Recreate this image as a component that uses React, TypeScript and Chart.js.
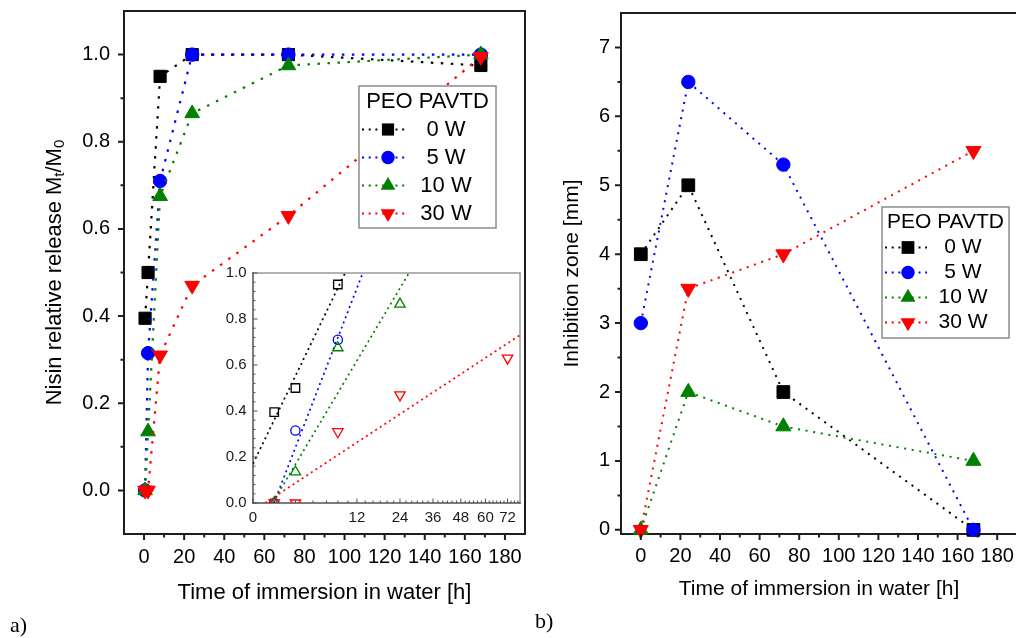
import React, { useEffect, useRef } from 'react';
import { Chart, registerables } from 'chart.js';

Chart.register(...registerables);

const FONT = '"Liberation Sans", Arial, Helvetica, sans-serif';
const SERIF = '"Liberation Serif", "Times New Roman", serif';
const AXIS = '#1e1e1e';

// ---------- shared series description ----------
const seriesLabels = ['0 W', '5 W', '10 W', '30 W'];
const seriesColors = ['#000000', '#0000ff', '#008000', '#ff0000'];
const seriesStyles = ['rect', 'circle', 'triangle', 'triangle'];
const seriesRotations = [0, 0, 0, 180];
const legendTitle = 'PEO PAVTD';

// ---------- a) nisin release ----------
const releaseHours = [0.5, 2, 8, 24, 72, 168];
const release0W = [0.395, 0.5, 0.95, 1.0, 1.0, 0.975];
const release5W = [0.0, 0.315, 0.71, 1.0, 1.0, 1.0];
const release10W = [0.0, 0.135, 0.675, 0.865, 0.975, 1.0];
const release30W = [0.0, 0.0, 0.31, 0.47, 0.63, 0.995];
const releaseXTicks = [0, 20, 40, 60, 80, 100, 120, 140, 160, 180];
const releaseXMinor = [10, 30, 50, 70, 90, 110, 130, 150, 170];
const releaseYTicks = [0, 0.2, 0.4, 0.6, 0.8, 1.0];
const releaseYMinor = [0.1, 0.3, 0.5, 0.7, 0.9];

// ---------- a) inset: release vs sqrt(time) ----------
const insetPointCounts = [3, 3, 4, 5];
const insetFit0W = [[0, 0.17], [3.07, 1.0]]; // [sqrt(h), Mt/M0]
const insetFit5W = [[0.7, 0], [3.66, 1.0]];
const insetFit10W = [[0.65, 0], [5.2, 1.0]];
const insetFit30W = [[0.4, 0], [8.9, 0.73]];
const insetXTickHours = [0, 12, 24, 36, 48, 60, 72];
const insetXMinorHours = [2, 4, 6, 8, 10, 14, 16, 18, 20, 22, 26, 28, 30, 32, 34, 38, 40, 42, 44, 46, 50, 52, 54, 56, 58, 62, 64, 66, 68, 70, 74, 76, 78];
const insetYTicks = [0, 0.2, 0.4, 0.6, 0.8, 1.0];
const insetYMinor = [0.04, 0.08, 0.12, 0.16, 0.24, 0.28, 0.32, 0.36, 0.44, 0.48, 0.52, 0.56, 0.64, 0.68, 0.72, 0.76, 0.84, 0.88, 0.92, 0.96];

// ---------- b) inhibition zone ----------
const zoneHours = [0, 24, 72, 168];
const zone0W = [4, 5, 2, 0];
const zone5W = [3, 6.5, 5.3, 0];
const zone10W = [0, 2, 1.5, 1];
const zone30W = [0, 3.5, 4, 5.5];
const zoneXTicks = [0, 20, 40, 60, 80, 100, 120, 140, 160, 180];
const zoneXMinor = [10, 30, 50, 70, 90, 110, 130, 150, 170];
const zoneYTicks = [0, 1, 2, 3, 4, 5, 6, 7];
const zoneYMinor = [0.5, 1.5, 2.5, 3.5, 4.5, 5.5, 6.5];

// ---------- helpers ----------
function drawMarker(ctx: any, style: string, rotation: number, x: number, y: number, r: number, color: string) {
  ctx.save();
  ctx.fillStyle = color;
  ctx.beginPath();
  if (style === 'rect') {
    const h = r * Math.SQRT1_2;
    ctx.rect(x - h, y - h, 2 * h, 2 * h);
  } else if (style === 'circle') {
    ctx.arc(x, y, r, 0, Math.PI * 2);
  } else {
    let rad = (rotation * Math.PI) / 180;
    ctx.moveTo(x + Math.sin(rad) * r, y - Math.cos(rad) * r);
    rad += (2 * Math.PI) / 3;
    ctx.lineTo(x + Math.sin(rad) * r, y - Math.cos(rad) * r);
    rad += (2 * Math.PI) / 3;
    ctx.lineTo(x + Math.sin(rad) * r, y - Math.cos(rad) * r);
    ctx.closePath();
  }
  ctx.fill();
  ctx.restore();
}

const framePlugin = {
  id: 'frame',
  beforeDatasetsDraw(chart: any, _a: any, o: any) {
    if (!o || !o.sides) return;
    const { left, right, top, bottom } = chart.chartArea;
    const ctx = chart.ctx;
    ctx.save();
    if (o.fill) {
      ctx.fillStyle = o.fill;
      ctx.fillRect(left, top, right - left, bottom - top);
    }
    const seg = (s: any, x0: number, y0: number, x1: number, y1: number) => {
      ctx.strokeStyle = s.color;
      ctx.lineWidth = s.width;
      ctx.beginPath();
      ctx.moveTo(x0, y0);
      ctx.lineTo(x1, y1);
      ctx.stroke();
    };
    const s = o.sides;
    ctx.lineCap = 'square';
    seg(s.top, left, top, right, top);
    seg(s.right, right, top, right, bottom);
    seg(s.left, left, top, left, bottom);
    seg(s.bottom, left, bottom, right, bottom);
    ctx.restore();
  },
};

const tickMarksPlugin = {
  id: 'tickMarks',
  afterDraw(chart: any, _a: any, o: any) {
    if (!o || !o.sets) return;
    const ctx = chart.ctx;
    const ca = chart.chartArea;
    ctx.save();
    ctx.strokeStyle = o.color;
    for (const s of o.sets) {
      const scale = chart.scales[s.axis];
      const sign = s.inward ? -1 : 1;
      ctx.lineWidth = s.width;
      ctx.beginPath();
      for (const v of s.values) {
        const p = scale.getPixelForValue(v);
        if (s.axis === 'x') {
          ctx.moveTo(p, ca.bottom);
          ctx.lineTo(p, ca.bottom + sign * s.len);
        } else {
          ctx.moveTo(ca.left, p);
          ctx.lineTo(ca.left - sign * s.len, p);
        }
      }
      ctx.stroke();
    }
    ctx.restore();
  },
};

const boxLegendPlugin = {
  id: 'boxLegend',
  afterDraw(chart: any, _a: any, o: any) {
    if (!o || !o.title) return;
    const ctx = chart.ctx;
    ctx.save();
    ctx.fillStyle = '#ffffff';
    ctx.fillRect(o.left, o.top, o.width, o.height);
    ctx.strokeStyle = '#8c8c8c';
    ctx.lineWidth = 1.5;
    ctx.strokeRect(o.left, o.top, o.width, o.height);
    ctx.fillStyle = '#000';
    ctx.font = `${o.fontSize}px ${FONT}`;
    ctx.textAlign = 'center';
    ctx.textBaseline = 'middle';
    ctx.fillText(o.title, o.left + o.width / 2, o.titleY);
    seriesLabels.forEach((label, i) => {
      const y = o.firstRowY + i * o.rowGap;
      ctx.save();
      ctx.setLineDash(o.dash);
      ctx.lineWidth = o.lineWidth;
      ctx.strokeStyle = seriesColors[i];
      ctx.beginPath();
      ctx.moveTo(o.lineX0, y);
      ctx.lineTo(o.lineX1, y);
      ctx.stroke();
      ctx.restore();
      drawMarker(ctx, seriesStyles[i], seriesRotations[i], o.markerX, y, o.radii[i], seriesColors[i]);
      ctx.fillStyle = '#000';
      ctx.font = `${o.fontSize}px ${FONT}`;
      ctx.textAlign = 'center';
      ctx.textBaseline = 'middle';
      ctx.fillText(label, o.labelX, y);
    });
    ctx.restore();
  },
};

const richTitlePlugin = {
  id: 'richTitle',
  afterDraw(chart: any, _a: any, o: any) {
    if (!o || !o.parts) return;
    const ctx = chart.ctx;
    const ca = chart.chartArea;
    ctx.save();
    ctx.translate(o.baselineX, (ca.top + ca.bottom) / 2);
    ctx.rotate(-Math.PI / 2);
    ctx.fillStyle = '#000';
    ctx.textAlign = 'left';
    ctx.textBaseline = 'alphabetic';
    const fonts = o.parts.map((p: any) => `${p.sub ? o.subSize : o.size}px ${FONT}`);
    const widths = o.parts.map((p: any, i: number) => {
      ctx.font = fonts[i];
      return ctx.measureText(p.text).width;
    });
    let x = -widths.reduce((a: number, b: number) => a + b, 0) / 2;
    o.parts.forEach((p: any, i: number) => {
      ctx.font = fonts[i];
      ctx.fillText(p.text, x, p.sub ? o.subShift : 0);
      x += widths[i];
    });
    ctx.restore();
  },
};

function fixedSize(size: number, horizontal: boolean) {
  return (s: any) => {
    if (horizontal) s.height = size;
    else s.width = size;
    s.paddingLeft = 0;
    s.paddingRight = 0;
    s.paddingTop = 0;
    s.paddingBottom = 0;
  };
}
function fixedTicks(values: number[]) {
  return (s: any) => {
    s.ticks = values.map((v) => ({ value: v }));
  };
}

function lineSeries(xs: number[], values: number[][], dash: number[], width: number, radii: number[]) {
  return values.map((vals, i) => ({
    label: seriesLabels[i],
    data: xs.map((x, j) => ({ x, y: vals[j] })),
    showLine: true,
    borderColor: seriesColors[i],
    backgroundColor: seriesColors[i],
    borderWidth: width,
    borderDash: dash,
    borderCapStyle: 'butt',
    pointStyle: seriesStyles[i],
    pointRotation: seriesRotations[i],
    pointRadius: radii[i],
    pointBorderWidth: 1,
    pointBackgroundColor: seriesColors[i],
    pointBorderColor: seriesColors[i],
    clip: false,
    order: values.length - 1 - i,
  }));
}

function panelConfig(p: any) {
  return {
    type: 'scatter',
    data: { datasets: p.datasets },
    options: {
      responsive: false,
      animation: false,
      devicePixelRatio: 1,
      events: [],
      layout: { autoPadding: false, padding: { left: 0, top: p.padTop, right: p.padRight, bottom: 0 } },
      plugins: {
        legend: { display: false },
        tooltip: { enabled: false },
        frame: { sides: p.sides, fill: p.fill },
        tickMarks: { color: p.tickColor, sets: p.tickSets },
        boxLegend: p.legend,
        richTitle: p.richTitle,
      },
      scales: {
        x: {
          type: 'linear',
          position: 'bottom',
          min: p.xMin,
          max: p.xMax,
          afterBuildTicks: fixedTicks(p.xTicks),
          afterFit: fixedSize(p.xAxisHeight, true),
          grid: { display: false, drawTicks: false },
          border: { display: false },
          ticks: {
            autoSkip: false,
            maxRotation: 0,
            minRotation: 0,
            padding: p.xTickPad,
            color: p.tickLabelColor,
            font: { family: FONT, size: p.tickFont },
            callback: p.xFmt,
          },
          title: p.xTitle
            ? {
                display: true,
                text: p.xTitle,
                color: '#000',
                font: { family: FONT, size: p.xTitleSize },
                padding: { top: 0, bottom: p.xTitlePad },
              }
            : { display: false },
        },
        y: {
          type: 'linear',
          position: 'left',
          min: p.yMin,
          max: p.yMax,
          afterBuildTicks: fixedTicks(p.yTicks),
          afterFit: fixedSize(p.yAxisWidth, false),
          grid: { display: false, drawTicks: false },
          border: { display: false },
          ticks: {
            autoSkip: false,
            padding: p.yTickPad,
            color: p.tickLabelColor,
            font: { family: FONT, size: p.tickFont },
            callback: p.yFmt,
          },
          title: p.yTitle
            ? {
                display: true,
                text: p.yTitle,
                color: '#000',
                font: { family: FONT, size: p.yTitleSize },
                padding: { top: p.yTitlePad, bottom: 0 },
              }
            : { display: false },
        },
      },
    },
    plugins: [framePlugin, tickMarksPlugin, boxLegendPlugin, richTitlePlugin],
  };
}

const solid = (color: string, width: number) => ({ color, width });

export default function App() {
  const aRef = useRef<HTMLCanvasElement>(null);
  const insetRef = useRef<HTMLCanvasElement>(null);
  const bRef = useRef<HTMLCanvasElement>(null);

  useEffect(() => {
    const charts: any[] = [];
    const mainSides = {
      top: solid(AXIS, 2),
      right: solid(AXIS, 2),
      left: solid(AXIS, 2),
      bottom: solid(AXIS, 2),
    };

    // ----- panel a) -----
    charts.push(
      new Chart(
        aRef.current as any,
        panelConfig({
          datasets: lineSeries(releaseHours, [release0W, release5W, release10W, release30W], [2.5, 7.5], 2.2, [8.6, 6.7, 8.5, 8.5]),
          padTop: 11,
          padRight: 5,
          xMin: -10,
          xMax: 190,
          xTicks: releaseXTicks,
          xAxisHeight: 104,
          xTickPad: 11,
          xFmt: (v: any) => String(v),
          xTitle: 'Time of immersion in water [h]',
          xTitleSize: 22,
          xTitlePad: 31.8,
          yMin: -0.1,
          yMax: 1.1,
          yTicks: releaseYTicks,
          yAxisWidth: 124,
          yTickPad: 14,
          yFmt: (v: any) => Number(v).toFixed(1),
          tickFont: 20,
          tickLabelColor: '#000',
          sides: mainSides,
          tickColor: AXIS,
          tickSets: [
            { axis: 'x', values: releaseXTicks, len: 6, width: 2 },
            { axis: 'x', values: releaseXMinor, len: 3.5, width: 2 },
            { axis: 'y', values: releaseYTicks, len: 6, width: 2 },
            { axis: 'y', values: releaseYMinor, len: 3.5, width: 2 },
          ],
          legend: {
            title: legendTitle,
            left: 359,
            top: 86,
            width: 137,
            height: 142,
            titleY: 102,
            firstRowY: 129.5,
            rowGap: 28,
            lineX0: 362,
            lineX1: 408,
            markerX: 388,
            labelX: 446,
            fontSize: 22,
            dash: [2, 4.7],
            lineWidth: 2,
            radii: [8.6, 6.7, 8.5, 8.5],
          },
          richTitle: {
            parts: [
              { text: 'Nisin relative release M' },
              { text: 't', sub: true },
              { text: '/M' },
              { text: '0', sub: true },
            ],
            size: 22,
            subSize: 15,
            subShift: 3,
            baselineX: 60.5,
          },
        }) as any
      )
    );

    // ----- inset of a) -----
    const insetDatasets: any[] = [];
    [release0W, release5W, release10W, release30W].forEach((vals, i) => {
      insetDatasets.push({
        label: seriesLabels[i],
        data: releaseHours.slice(0, insetPointCounts[i]).map((h, j) => ({ x: Math.sqrt(h), y: vals[j] })),
        showLine: false,
        pointStyle: seriesStyles[i],
        pointRotation: seriesRotations[i],
        pointRadius: [6, 4.6, 6, 6][i],
        pointBorderWidth: 1.3,
        pointBackgroundColor: 'rgba(0,0,0,0)',
        pointBorderColor: seriesColors[i],
        order: 3 - i,
      });
    });
    [insetFit0W, insetFit5W, insetFit10W, insetFit30W].forEach((fit, i) => {
      insetDatasets.push({
        label: seriesLabels[i] + ' fit',
        data: fit.map((pt) => ({ x: pt[0], y: pt[1] })),
        showLine: true,
        borderColor: seriesColors[i],
        borderWidth: 1.7,
        borderDash: [2, 3.5],
        borderCapStyle: 'butt',
        pointRadius: 0,
        order: 10 - i,
      });
    });
    charts.push(
      new Chart(
        insetRef.current as any,
        panelConfig({
          datasets: insetDatasets,
          padTop: 11,
          padRight: 6,
          xMin: 0,
          xMax: 8.9,
          xTicks: insetXTickHours.map((h) => Math.sqrt(h)),
          xAxisHeight: 31,
          xTickPad: 6,
          xFmt: (v: any) => String(Math.round(v * v)),
          yMin: 0,
          yMax: 1.0,
          yTicks: insetYTicks,
          yAxisWidth: 43,
          yTickPad: 6.5,
          yFmt: (v: any) => Number(v).toFixed(1),
          tickFont: 15,
          tickLabelColor: '#1a1a1a',
          fill: '#ffffff',
          sides: {
            top: solid('#9a9a9a', 1.5),
            right: solid('#9a9a9a', 1.5),
            left: solid('#505050', 1.5),
            bottom: solid('#505050', 1.5),
          },
          tickColor: '#505050',
          tickSets: [
            { axis: 'x', values: insetXTickHours.map((h) => Math.sqrt(h)), len: 4.5, width: 1, inward: true },
            { axis: 'x', values: insetXMinorHours.map((h) => Math.sqrt(h)), len: 2.5, width: 1, inward: true },
            { axis: 'y', values: insetYTicks, len: 4.5, width: 1, inward: true },
            { axis: 'y', values: insetYMinor, len: 2.5, width: 1, inward: true },
          ],
        }) as any
      )
    );

    // ----- panel b) -----
    charts.push(
      new Chart(
        bRef.current as any,
        panelConfig({
          datasets: lineSeries(zoneHours, [zone0W, zone5W, zone10W, zone30W], [2, 5.7], 2, [9, 6.7, 8.7, 8.7]),
          padTop: 13,
          padRight: 3,
          xMin: -10,
          xMax: 190,
          xTicks: zoneXTicks,
          xAxisHeight: 104,
          xTickPad: 10,
          xFmt: (v: any) => String(v),
          xTitle: 'Time of immersion in water [h]',
          xTitleSize: 21,
          xTitlePad: 36.4,
          yMin: -0.06,
          yMax: 7.5,
          yTicks: zoneYTicks,
          yAxisWidth: 91,
          yTickPad: 11,
          yFmt: (v: any) => String(v),
          yTitle: 'Inhibition zone [mm]',
          yTitleSize: 21,
          yTitlePad: 29.4,
          tickFont: 20,
          tickLabelColor: '#000',
          sides: mainSides,
          tickColor: AXIS,
          tickSets: [
            { axis: 'x', values: zoneXTicks, len: 6, width: 2 },
            { axis: 'x', values: zoneXMinor, len: 3.5, width: 2 },
            { axis: 'y', values: zoneYTicks, len: 6, width: 2 },
            { axis: 'y', values: zoneYMinor, len: 3.5, width: 2 },
          ],
          legend: {
            title: legendTitle,
            left: 352,
            top: 207,
            width: 127,
            height: 131,
            titleY: 222.5,
            firstRowY: 247.5,
            rowGap: 25,
            lineX0: 355,
            lineX1: 397,
            markerX: 378,
            labelX: 433,
            fontSize: 21,
            dash: [2, 4.7],
            lineWidth: 2,
            radii: [9, 6.7, 8.7, 8.7],
          },
        }) as any
      )
    );

    return () => charts.forEach((c) => c.destroy());
  }, []);

  return (
    <div
      style={{
        position: 'absolute',
        left: 0,
        top: 0,
        width: 1016,
        height: 638,
        overflow: 'hidden',
        background: '#ffffff',
      }}
    >
      <canvas ref={aRef} width={530} height={638} style={{ position: 'absolute', left: 0, top: 0, width: 530, height: 638 }} />
      <canvas ref={bRef} width={490} height={638} style={{ position: 'absolute', left: 530, top: 0, width: 490, height: 638 }} />
      <canvas ref={insetRef} width={316} height={272} style={{ position: 'absolute', left: 210, top: 262, width: 316, height: 272 }} />
      <div style={{ position: 'absolute', left: 10, top: 614, font: `22px ${SERIF}`, lineHeight: '22px', color: '#000' }}>a)</div>
      <div style={{ position: 'absolute', left: 535, top: 610, font: `22px ${SERIF}`, lineHeight: '22px', color: '#000' }}>b)</div>
    </div>
  );
}
